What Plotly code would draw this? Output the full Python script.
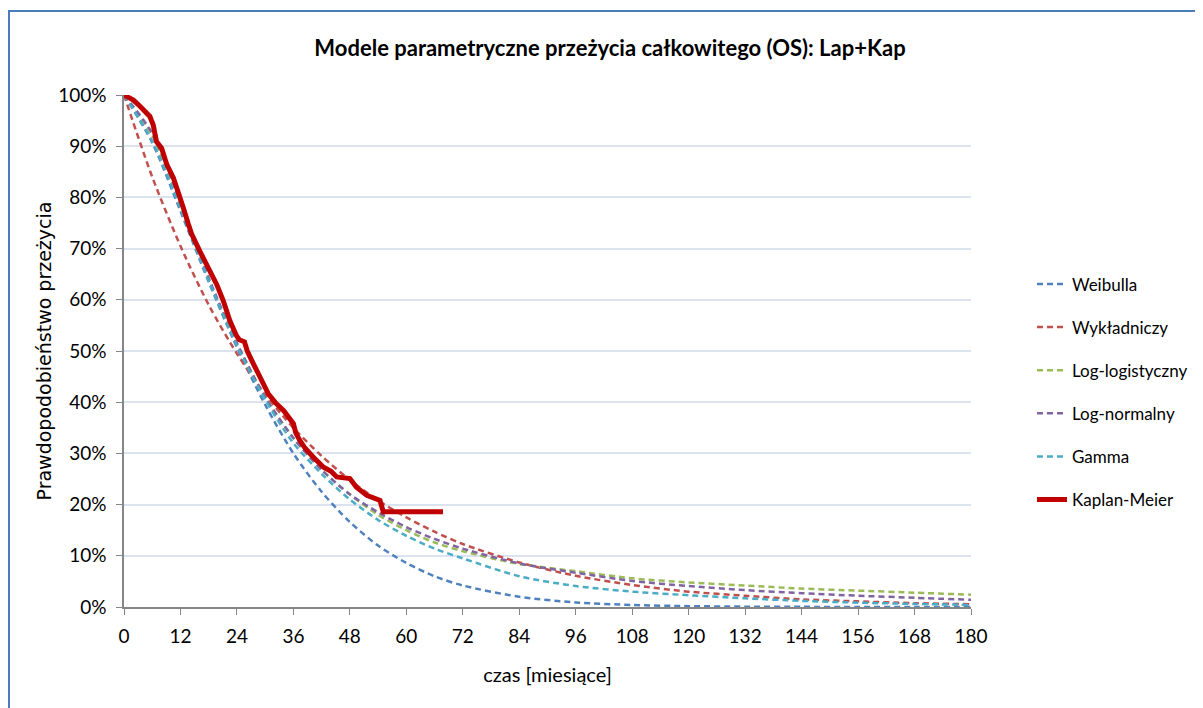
import plotly.graph_objects as go

# ---- data ----
months = [0, 6, 12, 18, 24, 30, 36, 42, 48, 54, 60, 66, 72, 84, 96, 108, 120, 132, 144, 156, 168, 180]

weibull = [100, 90.7, 77.3, 63.5, 50.7, 39.5, 30.0, 22.5, 16.6, 12.0, 8.6, 6.0, 4.2, 2.0, 0.9, 0.4, 0.17, 0.07, 0.03, 0.01, 0.0, 0.0]
exponential = [100, 84, 70.5, 59, 49.5, 41.5, 35, 29.5, 24.8, 20.8, 17.5, 14.7, 12.3, 8.7, 6.1, 4.3, 3.0, 2.2, 1.5, 1.1, 0.75, 0.55]
loglogistic = [100, 92, 78.5, 64, 51.5, 41, 33, 26.8, 22, 18.0, 15.0, 12.6, 10.9, 8.4, 7.0, 5.6, 4.8, 4.2, 3.6, 3.2, 2.8, 2.4]
lognormal = [100, 92.5, 79, 64.3, 51.5, 41, 33, 26.8, 22, 18.5, 15.6, 13.3, 11.4, 8.5, 6.7, 5.1, 4.1, 3.3, 2.7, 2.2, 1.8, 1.4]
gamma = [100, 91, 77.8, 63.8, 51, 40.5, 32, 26, 21, 17, 13.9, 11.4, 9.5, 6.0, 4.1, 3.0, 2.3, 1.7, 1.2, 0.85, 0.6, 0.4]

km_time = [0, 0.6, 2, 3.4, 5.5, 6.2, 6.9, 8, 9.1, 10.5, 11.5, 12.6, 13.7, 14.4, 16.1, 18.3, 19.7,
           21.1, 22.5, 23.9, 24.5, 25.6, 26.2, 27.5, 28.9, 30.7, 32.4, 33.9, 36, 36.5, 37.4, 38.5,
           40.2, 42.4, 44, 45.2, 48, 49.4, 51.6, 54.4, 55.1, 67.8]
km_surv = [100, 99.7, 99, 97.8, 95.8, 94.2, 90.9, 89.6, 86.4, 83.8, 81.2, 78, 74.7, 72.8, 69.5, 65.6, 63,
           59.8, 55.9, 53, 52.2, 51.8, 50, 47.5, 44.8, 41.6, 39.7, 38.4, 35.8, 34, 32.5, 31,
           29.3, 27.3, 26.5, 25.4, 25.1, 23.4, 21.8, 20.8, 18.6, 18.6]

series = [
    ("Weibulla", weibull, "#4F81BD"),
    ("Wykładniczy", exponential, "#C0504D"),
    ("Log-logistyczny", loglogistic, "#9BBB59"),
    ("Log-normalny", lognormal, "#8064A2"),
    ("Gamma", gamma, "#4BACC6"),
]

FONT = "Lato, Open Sans, sans-serif"

fig = go.Figure()
for i, (name, vals, col) in enumerate(series):
    fig.add_trace(go.Scatter(
        x=months, y=vals, name=name, mode="lines",
        line=dict(color=col, width=2.5, dash="6px,4px", shape="spline", smoothing=0.8),
        legendgroup=f"g{i}",
    ))

fig.add_trace(go.Scatter(
    x=km_time, y=km_surv, name="Kaplan-Meier", mode="lines",
    line=dict(color="#C00000", width=5),
    legendgroup="g5",
))

W, H = 1195, 700
L, T, PW, PH = 116, 87, 847, 512

fig.update_layout(
    width=W, height=H,
    paper_bgcolor="white", plot_bgcolor="white",
    margin=dict(l=L, r=W - L - PW, t=T, b=H - T - PH, autoexpand=False),
    title=dict(
        text="<b>Modele parametryczne przeżycia całkowitego (OS): Lap+Kap</b>",
        x=602 / W, xanchor="center", y=1 - 40 / H, yanchor="middle",
        font=dict(family=FONT, size=22, color="#000000"),
    ),
    legend=dict(
        x=1.072, xanchor="left", y=0.42, yanchor="middle",
        traceorder="grouped", tracegroupgap=18,
        font=dict(family=FONT, size=17, color="#000000"),
        bgcolor="rgba(0,0,0,0)",
    ),
    showlegend=True,
    xaxis=dict(
        range=[0, 180], dtick=12, tick0=0,
        showgrid=False, zeroline=False,
        showline=True, linecolor="#868686", linewidth=1.5,
        ticks="outside", ticklen=6, tickcolor="#868686",
        ticklabelstandoff=5,
        tickfont=dict(family=FONT, size=19, color="#000000"),
        title=dict(text="czas [miesiące]", standoff=22,
                   font=dict(family=FONT, size=20, color="#000000")),
    ),
    yaxis=dict(
        range=[0, 100], dtick=10, tick0=0, ticksuffix="%",
        showgrid=True, gridcolor="#DCE3F0", gridwidth=2,
        zeroline=False,
        showline=True, linecolor="#868686", linewidth=1.5,
        ticks="outside", ticklen=6, tickcolor="#868686",
        ticklabelstandoff=6,
        tickfont=dict(family=FONT, size=19, color="#000000"),
        title=dict(text="Prawdopodobieństwo przeżycia", standoff=2,
                   font=dict(family="DejaVu Sans, sans-serif", size=19, color="#000000")),
    ),
    shapes=[dict(
        type="rect", xref="paper", yref="paper",
        x0=(1 - L) / PW, x1=1.5, y0=-0.5, y1=(T + PH - 3) / PH,
        line=dict(color="#4A7EBB", width=2), fillcolor="rgba(0,0,0,0)", layer="below",
    )],
)

fig.write_html("out.html")
